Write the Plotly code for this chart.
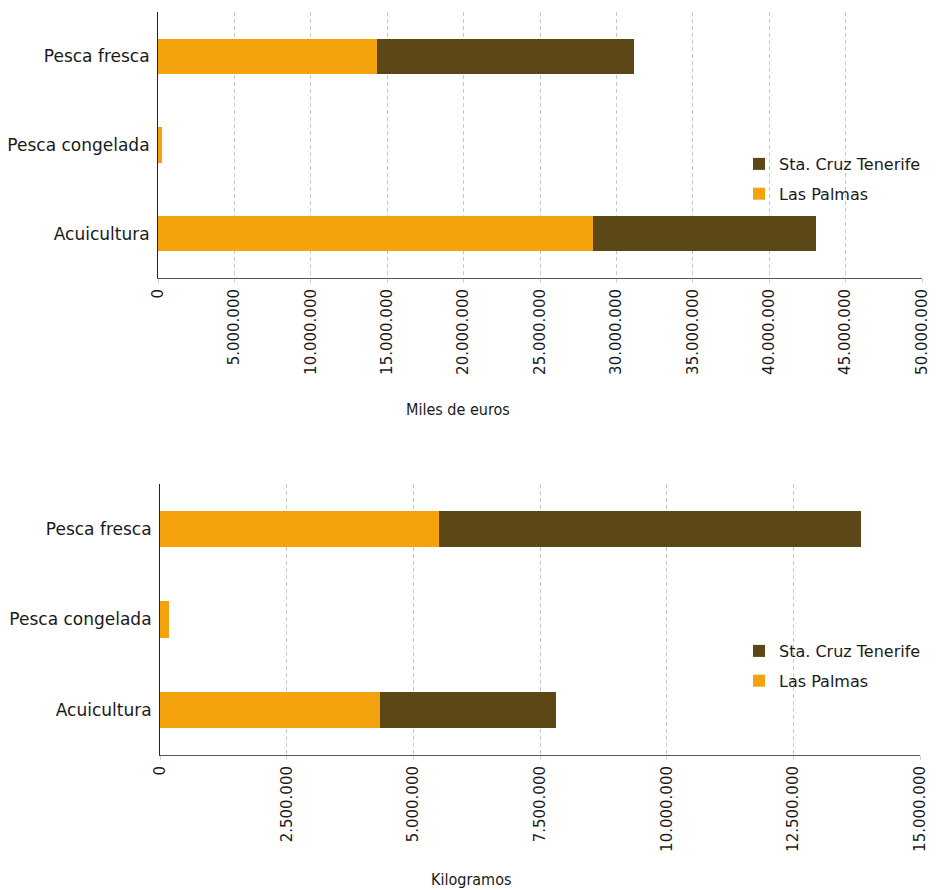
import plotly.graph_objects as go

categories = ["Pesca fresca", "Pesca congelada", "Acuicultura"]
colors = {"Las Palmas": "#F5A30D", "Sta. Cruz Tenerife": "#5C4716"}

# Miles de euros
euros_las_palmas = [14330000, 290000, 28470000]
euros_tenerife = [16820000, 0, 14590000]

# Kilogramos
kg_las_palmas = [5510000, 180000, 4340000]
kg_tenerife = [8330000, 0, 3480000]

euros_ticks = list(range(0, 50000001, 5000000))
kg_ticks = list(range(0, 15000001, 2500000))

OFF = 8  # body margin of the html page
W, H = 929, 882
ML, MT, MB = 150, 4, 8
PW = 764
MR = W - ML - PW
PH = H - MT - MB

def fy(px):
    return 1 - (px - OFF - MT) / PH

def fx(px):
    return (px - OFF - ML) / PW

fig = go.Figure()

font_main = "DejaVu Sans"
font_cond = "DejaVu Sans Condensed, DejaVu Sans"
txt = "#1a1a1a"

rank = {"Las Palmas": 2, "Sta. Cruz Tenerife": 1}
for name, vals in [("Las Palmas", euros_las_palmas), ("Sta. Cruz Tenerife", euros_tenerife)]:
    fig.add_trace(go.Bar(
        y=categories, x=vals, name=name, orientation="h",
        marker=dict(color=colors[name], line=dict(width=0)),
        xaxis="x", yaxis="y", legend="legend", legendgroup=name + "1",
        legendrank=rank[name], width=0.4,
    ))
for name, vals in [("Las Palmas", kg_las_palmas), ("Sta. Cruz Tenerife", kg_tenerife)]:
    fig.add_trace(go.Bar(
        y=categories, x=vals, name=name, orientation="h",
        marker=dict(color=colors[name], line=dict(width=0)),
        xaxis="x2", yaxis="y2", legend="legend2", legendgroup=name + "2",
        legendrank=rank[name], width=0.4,
    ))

xcommon = dict(
    showgrid=True, gridcolor="#C8C8C8", griddash="4px,3px", gridwidth=1,
    showline=True, linecolor="#555555", linewidth=1,
    ticks="outside", ticklen=4, tickcolor="#D0D0D0",
    tickangle=-90, tickformat=",d",
    tickfont=dict(family=font_main, size=15, color=txt),
    zeroline=False, fixedrange=True, automargin=False,
)
ycommon = dict(
    type="category", categoryorder="array", categoryarray=categories,
    autorange="reversed",
    showline=True, linecolor="#222222", linewidth=1,
    showgrid=False, ticks="", ticklabelstandoff=4,
    tickfont=dict(family=font_main, size=17, color=txt),
    automargin=False,
)

legend_common = dict(
    xanchor="left", yanchor="top",
    traceorder="grouped", tracegroupgap=6,
    font=dict(family=font_main, size=16, color=txt),
    bgcolor="rgba(0,0,0,0)", itemwidth=30,
)

fig.update_layout(
    width=W, height=H,
    margin=dict(l=ML, r=MR, t=MT, b=MB, autoexpand=False),
    paper_bgcolor="white", plot_bgcolor="white",
    barmode="stack",
    separators=",.",
    showlegend=True,
    xaxis=dict(domain=[0, 1], anchor="y", range=[0, 50000000],
               tickvals=euros_ticks, **xcommon),
    yaxis=dict(domain=[fy(278), fy(12)], anchor="x", **ycommon),
    xaxis2=dict(domain=[fx(160), fx(920)], anchor="y2", range=[0, 15000000],
                tickvals=kg_ticks, **xcommon),
    yaxis2=dict(domain=[fy(755), fy(484)], anchor="x2", **ycommon),
    legend=dict(x=fx(739), y=fy(147), **legend_common),
    legend2=dict(x=fx(739), y=fy(634), **legend_common),
    annotations=[
        dict(text="Miles de euros", xref="paper", yref="paper",
             x=fx(458), y=fy(410), showarrow=False, xanchor="center", yanchor="middle",
             font=dict(family=font_cond, size=16, color=txt)),
        dict(text="Kilogramos", xref="paper", yref="paper",
             x=fx(471), y=fy(879), showarrow=False, xanchor="center", yanchor="middle",
             font=dict(family=font_cond, size=16, color=txt)),
    ],
)

fig.write_html("out.html")
